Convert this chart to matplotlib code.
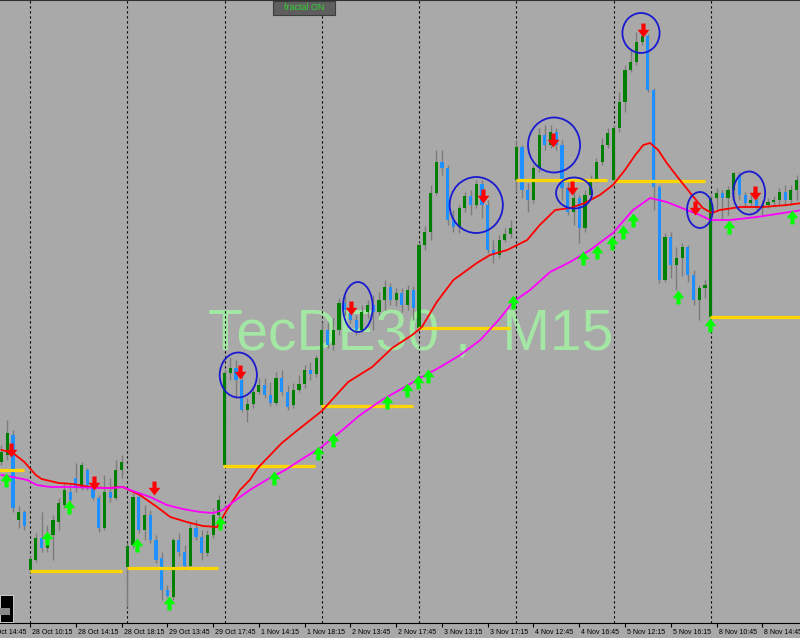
import numpy as np
import matplotlib.pyplot as plt
from matplotlib.path import Path
from matplotlib.patches import Ellipse, Rectangle

# TecDE30 M15 candles.
# Levels are measured down from the top of the chart window (y axis inverted).
opens = [
    462, 455, 435, 520, 512,
    570, 560, 538, 548, 535, 522, 505, 492, 478, 488, 470, 485, 498, 528, 492, 498, 470,
    567, 545, 497, 530, 515, 540, 558, 590, 597, 540, 552, 566, 528, 537, 553, 535, 515,
    465, 373, 368, 380, 410, 404, 392, 385, 395, 403, 378, 392, 405, 390, 384, 370, 374,
    405, 330, 345, 330, 303, 310, 320, 330, 312, 305, 312, 300, 287, 300, 293, 305, 290,
    328, 245, 232, 193, 162, 168, 220, 227, 208, 196, 205, 184, 205, 250, 255, 240, 234,
    180, 147, 190, 200, 168, 135, 145, 132, 145, 188, 212, 198, 228, 195, 180, 162, 145,
    180, 128, 102, 70, 62, 42, 36, 90, 187, 280, 237, 265, 258, 247, 275, 300, 288,
    317, 198, 193, 198, 190, 175, 195, 203, 200, 208, 205, 202, 200, 192, 200, 190,
]
closes = [
    452, 433, 508, 512, 526,
    559, 538, 548, 535, 520, 503, 490, 500, 488, 465, 485, 498, 528, 492, 498, 470, 462,
    546, 497, 530, 515, 540, 560, 590, 596, 540, 552, 566, 528, 537, 553, 535, 515, 500,
    373, 368, 380, 410, 404, 392, 385, 395, 403, 378, 392, 407, 390, 384, 370, 374, 358,
    330, 345, 330, 303, 310, 320, 330, 312, 305, 312, 300, 287, 300, 293, 305, 290, 308,
    245, 232, 193, 162, 168, 220, 227, 208, 196, 205, 184, 205, 250, 255, 240, 234, 228,
    147, 190, 200, 168, 135, 145, 132, 145, 188, 212, 198, 228, 195, 180, 162, 145, 133,
    128, 102, 70, 62, 42, 36, 90, 187, 280, 237, 265, 258, 247, 275, 300, 288, 285,
    198, 193, 198, 190, 173, 195, 203, 200, 208, 205, 202, 200, 192, 200, 190, 180,
]
highs = [
    445, 420, 430, 506, 510,
    556, 533, 512, 525, 515, 498, 482, 484, 463, 462, 468, 480, 495, 475, 478, 460, 455,
    543, 493, 492, 505, 510, 535, 552, 585, 538, 533, 545, 523, 520, 530, 530, 508, 495,
    370, 357, 360, 375, 398, 386, 378, 378, 382, 372, 370, 385, 383, 375, 365, 362, 355,
    322, 322, 318, 298, 296, 302, 315, 305, 300, 295, 292, 280, 283, 288, 288, 285, 286,
    242, 226, 185, 150, 150, 165, 210, 205, 192, 190, 180, 180, 200, 240, 235, 228, 220,
    140, 145, 183, 165, 128, 125, 125, 128, 140, 180, 190, 195, 190, 175, 158, 138, 128,
    125, 92, 65, 50, 32, 28, 34, 88, 185, 233, 232, 247, 243, 245, 270, 285, 280,
    195, 188, 190, 186, 172, 172, 192, 195, 196, 200, 198, 196, 188, 185, 185, 175,
]
lows = [
    465, 460, 512, 528, 530,
    572, 562, 552, 552, 560, 530, 508, 504, 492, 490, 490, 500, 532, 530, 502, 500, 478,
    607, 548, 533, 540, 543, 563, 600, 597, 600, 556, 570, 568, 540, 560, 556, 538, 520,
    467, 380, 398, 412, 422, 408, 394, 398, 406, 405, 395, 410, 408, 392, 388, 380, 377,
    407, 348, 350, 335, 315, 323, 335, 332, 318, 330, 315, 310, 305, 306, 312, 310, 320,
    330, 250, 240, 195, 175, 225, 232, 233, 212, 215, 208, 218, 253, 263, 258, 242, 238,
    192, 198, 212, 203, 172, 150, 148, 150, 200, 215, 225, 243, 232, 198, 182, 165, 148,
    182, 132, 112, 72, 65, 45, 92, 210, 283, 282, 278, 290, 276, 282, 305, 320, 298,
    320, 210, 220, 215, 200, 200, 207, 206, 212, 215, 208, 206, 205, 206, 205, 200,
]

session_starts = [5, 22, 39, 56, 73, 90, 107, 124]

tick_pos = [-3, 5, 13, 21, 29, 37, 45, 53, 61, 69, 77, 85, 93, 101, 109, 117, 125, 133]
tick_labels = ["27 Oct 14:45", "28 Oct 10:15", "28 Oct 14:15", "28 Oct 18:15",
               "29 Oct 13:45", "29 Oct 17:45", "1 Nov 14:15", "1 Nov 18:15",
               "2 Nov 13:45", "2 Nov 17:45", "3 Nov 13:15", "3 Nov 17:15",
               "4 Nov 12:45", "4 Nov 16:45", "5 Nov 12:15", "5 Nov 16:15",
               "8 Nov 10:45", "8 Nov 14:45"]

# session open levels (yellow)
open_x0 = [-0.5, 5, 22, 38.8, 55.8, 72.8, 90, 107, 123.9]
open_x1 = [4, 21.1, 37.8, 54.8, 72, 88.9, 105.9, 123, 140]
open_lvl = [470, 571, 568, 466, 406, 328, 180, 181, 317]

# moving averages
red_x = [0, 2, 4, 6, 7, 10, 12.5, 15.5, 18.4, 21.2, 24.2, 27.2, 29.5, 32.4, 35.2, 37.7,
         39.4, 41.7, 43.4, 44.8, 49, 51.8, 56, 60.6, 64.8, 68.3, 71.8, 73.5, 76.1, 79,
         83.1, 85.4, 88.4, 91.9, 94.1, 96.8, 99.4, 102, 104.6, 106.9, 109, 110.8, 112.2,
         113.4, 114.8, 116.3, 118.6, 120.7, 122.6, 124.2, 125.6, 129.1, 133.1, 137.3, 140]
red_y = [450, 453, 462, 475, 479, 483, 484, 487, 488, 487, 495, 507, 517, 522, 526, 527,
         510, 490, 480, 468, 443, 430, 411, 382, 367, 348, 335, 327, 302, 280,
         263, 255, 250, 240, 225, 210, 208, 203, 195, 185, 170, 155, 145,
         143, 150, 163, 180, 195, 208, 213, 210, 207, 207, 205, 203]
mag_x = [0, 2, 4.5, 6.2, 8.5, 12.5, 16.7, 19.5, 21.2, 22.5, 26, 28.9, 31.7, 34.7, 37,
         38.7, 40.5, 43.4, 46.9, 49.6, 53.1, 55.7, 59.2, 62.7, 66.5, 70.5, 73.5, 76.7,
         80.2, 83.7, 87.2, 89.4, 92.4, 95.9, 99.4, 102.9, 106.9, 110.4, 113.4, 116.3,
         119.8, 122.1, 123.9, 127.4, 132.1, 137.8, 140]
mag_y = [475, 477, 480, 485, 487, 487, 488, 488, 487, 490, 497, 505, 509, 512, 513,
         510, 502, 490, 478, 470, 457, 448, 432, 415, 400, 387, 377, 367,
         355, 340, 318, 302, 290, 272, 262, 250, 233, 210, 198, 202,
         210, 215, 220, 220, 217, 212, 210]

# fractals
dn_x = [1.7, 16.2, 26.7, 41.7, 61.1, 84.2, 96.4, 99.7, 112.2, 121.2, 131.7]
dn_y = [450, 483, 488, 372, 308, 196, 140, 188, 30, 208, 193]
up_x = [0.8, 8.0, 11.8, 23.7, 29.3, 38.2, 47.6, 55.3, 58.0, 67.4, 70.9, 72.8, 74.6,
        89.4, 101.7, 104.1, 106.7, 108.7, 110.4, 118.3, 123.9, 127.2, 138.2]
up_y = [480, 538, 507, 545, 603, 523, 478, 453, 440, 402, 390, 382, 376,
        302, 258, 252, 243, 232, 220, 297, 325, 227, 217]

# hand drawn circles
circ_x = [41.4, 62.3, 83.0, 96.6, 100.1, 111.8, 122.1, 130.7]
circ_y = [375, 307, 205, 145, 193, 33, 210, 193]
circ_w = [6.5, 5.2, 9.3, 9.1, 6.3, 6.5, 4.5, 5.6]
circ_h = [45, 50, 56, 55, 31, 40, 36, 43]

bg = '#a9a9a9'
fig = plt.figure(figsize=(8, 6.38), dpi=100, facecolor=bg)
ax = fig.add_axes([0, 15 / 638, 1, 623 / 638], facecolor=bg)

ax.text(208 / 800, 1 - 350 / 623, 'TecDE30 ,  M15', transform=ax.transAxes,
        fontsize=41, color='#a4e6a4', family='Liberation Sans',
        ha='left', va='baseline', zorder=1)

for s in session_starts:
    ax.axvline(s, color='black', lw=0.8, ls=(0, (2, 2.5)), zorder=1.5)

x = np.arange(len(opens))
o = np.array(opens)
c = np.array(closes)
bull = c <= o
ax.vlines(x, highs, lows, color='#7c7c7c', lw=1, zorder=2)
ax.bar(x[bull], (c - o)[bull], bottom=o[bull], width=0.55, color='#008000', lw=0, zorder=3)
ax.bar(x[~bull], (c - o)[~bull], bottom=o[~bull], width=0.55, color='#1e90ff', lw=0, zorder=3)

ax.hlines(open_lvl, open_x0, open_x1, color='#ffd700', lw=2.3, zorder=4)
ax.plot(red_x, red_y, color='#ff0000', lw=1.3, zorder=5)
ax.plot(mag_x, mag_y, color='#ff00ff', lw=1.3, zorder=5)

down = Path([(-0.3, 1), (0.3, 1), (0.3, 0.1), (0.85, 0.1), (0, -1), (-0.85, 0.1), (-0.3, 0.1), (-0.3, 1)],
            [1, 2, 2, 2, 2, 2, 2, 79])
upp = Path([(-0.3, -1), (0.3, -1), (0.3, -0.1), (0.85, -0.1), (0, 1), (-0.85, -0.1), (-0.3, -0.1), (-0.3, -1)],
           [1, 2, 2, 2, 2, 2, 2, 79])
ax.plot(dn_x, dn_y, ls='none', marker=down, ms=10, color='#ff0000', mew=0, zorder=6)
ax.plot(up_x, up_y, ls='none', marker=upp, ms=10, color='#00ff00', mew=0, zorder=6)

for cx, cy, w, h in zip(circ_x, circ_y, circ_w, circ_h):
    ax.add_patch(Ellipse((cx, cy), w, h, fill=False, ec='#1a1ad0', lw=1.3, zorder=7))

ax.set_xlim(-1.5 / 5.72, 798.5 / 5.72)
ax.set_ylim(623, 0)
ax.set_yticks([])
ax.set_xticks([t for t in tick_pos if t >= 0])
ax.tick_params(axis='x', length=3, width=0.8, color='black', labelbottom=False)
for t, lab in zip(tick_pos, tick_labels):
    ax.text(t + 0.35, -0.0145, lab, transform=ax.get_xaxis_transform(), fontsize=5,
            family='Liberation Sans', ha='left', va='center', clip_on=False)
for side in ['left', 'right']:
    ax.spines[side].set_visible(False)
ax.spines['bottom'].set_color('black')
ax.spines['top'].set_color('#303030')

# "fractal ON" button and the small black box at the bottom left
fig.patches.append(Rectangle((273 / 800, 1 - 15 / 638), 62 / 800, 14 / 638, transform=fig.transFigure,
                             fc='#5e5e5e', ec='#3c3c3c', lw=0.8, zorder=10))
fig.text(304 / 800, 1 - 8 / 638, 'fractal ON', color='#2fd32f', fontsize=6.5,
         family='Liberation Sans', ha='center', va='center', zorder=11)
fig.patches.append(Rectangle((0, 16 / 638), 13 / 800, 27 / 638, transform=fig.transFigure,
                             fc='black', ec='#dddddd', lw=0.6, zorder=10))
fig.patches.append(Rectangle((0, 23 / 638), 10 / 800, 7 / 638, transform=fig.transFigure,
                             fc='#8a8a8a', ec='none', zorder=11))

fig.savefig('out.png', dpi=100, facecolor=bg)
